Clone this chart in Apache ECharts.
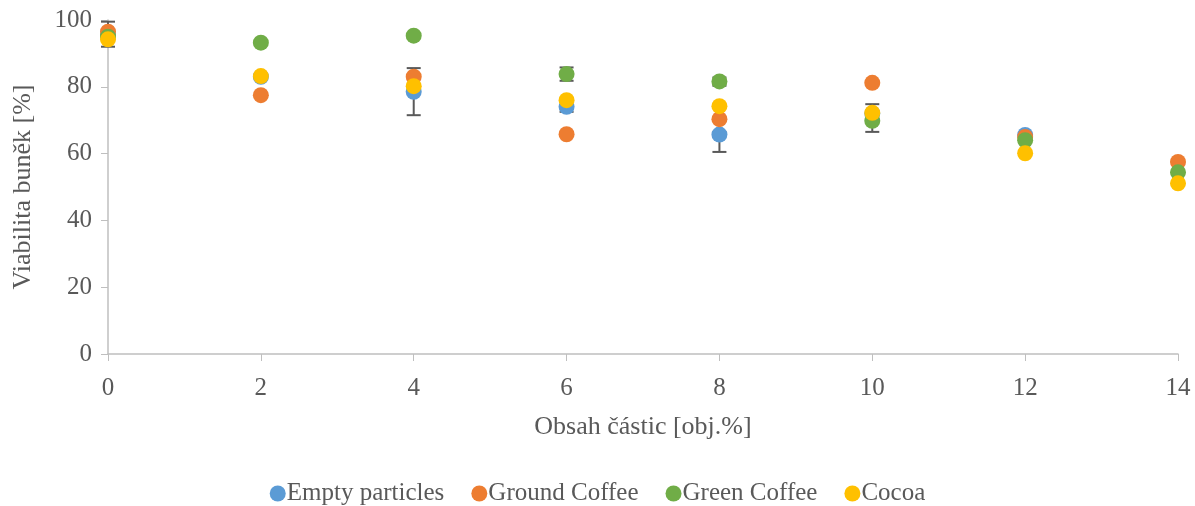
<!DOCTYPE html>
<html><head><meta charset="utf-8">
<script src="https://cdn.jsdelivr.net/npm/echarts@6/dist/echarts.min.js"></script>
<style>html,body{margin:0;padding:0;background:#fff}#c{width:1195px;height:506px}</style>
</head><body><div id="c"></div>
<script>
const xValues = [0, 2, 4, 6, 8, 10, 12, 14];
const emptyParticles = [95.5, 83, 78.5, 74, 65.7, 72, 65.6, null];
const groundCoffee = [96.5, 77.5, 83, 65.8, 70.3, 81.2, 65, 57.5];
const greenCoffee = [95, 93.2, 95.3, 83.8, 81.6, 69.8, 64, 54.4];
const cocoa = [94.2, 83.2, 80.2, 76, 74.2, 72.2, 60.1, 51.1];
const errX = [0, 4, 6, 6, 8, 8, 10];
const errLow = [92, 71.5, 81.8, 72.5, 60.5, 80.3, 66.5];
const errHigh = [99.5, 85.6, 85.8, 75.5, 66.5, 82.8, 74.8];
const seriesNames = ['Empty particles', 'Ground Coffee', 'Green Coffee', 'Cocoa'];
const colors = ['#5B9BD5', '#ED7D31', '#70AD47', '#FFC000'];

const seriesData = [emptyParticles, groundCoffee, greenCoffee, cocoa];
const font = 'Liberation Serif';
const chart = echarts.init(document.getElementById('c'));
const series = [{
  type: 'custom',
  silent: true,
  z: 1,
  data: errX.map((x, i) => [x, errLow[i], errHigh[i]]),
  renderItem: function (params, api) {
    const lo = api.coord([api.value(0), api.value(1)]);
    const hi = api.coord([api.value(0), api.value(2)]);
    const w = 7;
    const st = { stroke: '#595959', lineWidth: 2 };
    return { type: 'group', children: [
      { type: 'line', shape: { x1: hi[0], y1: hi[1], x2: lo[0], y2: lo[1] }, style: st },
      { type: 'line', shape: { x1: hi[0] - w, y1: hi[1], x2: hi[0] + w, y2: hi[1] }, style: st },
      { type: 'line', shape: { x1: lo[0] - w, y1: lo[1], x2: lo[0] + w, y2: lo[1] }, style: st }
    ]};
  }
}];
seriesNames.forEach((n, i) => {
  series.push({
    name: n, type: 'scatter', symbolSize: 16, z: 2 + i,
    itemStyle: { color: colors[i], opacity: 1 },
    data: xValues.map((x, j) => seriesData[i][j] == null ? null : [x, seriesData[i][j]]).filter(d => d)
  });
});
chart.setOption({
  animation: false,
  textStyle: { fontFamily: font },
  grid: { left: 108, right: 17, top: 20, bottom: 152 },
  legend: {
    top: 481, left: 'center', itemWidth: 16, itemHeight: 16, itemGap: 27,
    icon: 'circle', padding: 0,
    textStyle: { fontFamily: font, fontSize: 25, color: '#595959', padding: [0, 0, 0, -4] },
    data: seriesNames
  },
  xAxis: {
    type: 'value', min: 0, max: 14, interval: 2,
    name: 'Obsah částic [obj.%]', nameLocation: 'middle', nameGap: 60,
    nameTextStyle: { fontFamily: font, fontSize: 26, color: '#595959' },
    axisLine: { show: true, lineStyle: { color: '#BFBFBF', width: 1.5 } },
    axisTick: { show: true, length: 7, lineStyle: { color: '#BFBFBF' } },
    axisLabel: { fontFamily: font, fontSize: 25, color: '#595959', margin: 22 },
    splitLine: { show: false }
  },
  yAxis: {
    type: 'value', min: 0, max: 100, interval: 20,
    name: 'Viabilita buněk [%]', nameLocation: 'middle', nameGap: 72, nameRotate: 90,
    nameTextStyle: { fontFamily: font, fontSize: 26, color: '#595959' },
    axisLine: { show: true, lineStyle: { color: '#BFBFBF', width: 1.5 } },
    axisTick: { show: true, length: 7, lineStyle: { color: '#BFBFBF' } },
    axisLabel: { fontFamily: font, fontSize: 25, color: '#595959', margin: 16 },
    splitLine: { show: false }
  },
  series: series
});
</script></body></html>
